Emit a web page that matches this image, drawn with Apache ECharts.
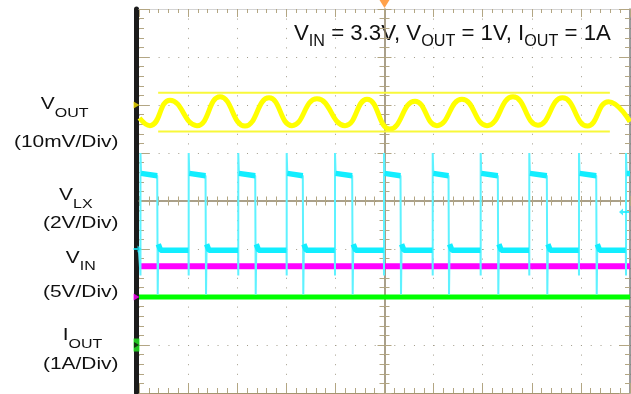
<!DOCTYPE html>
<html><head><meta charset="utf-8">
<script src="https://cdn.jsdelivr.net/npm/echarts@6/dist/echarts.min.js"></script>
<style>html,body{margin:0;padding:0;background:#fff}#c{width:631px;height:394px}</style>
</head><body><div id="c"></div>
<script>
// ---------- values read from the scope capture (time in divisions from trigger) ----------
// channel order: VOUT, VLX, VIN, IOUT
const chMain   = ['V', 'V', 'V', 'I'];
const chSub    = ['OUT', 'LX', 'IN', 'OUT'];
const chScaleLabel = ['(10mV/Div)', '(2V/Div)', '(5V/Div)', '(1A/Div)'];
const chPerDiv = [10, 2, 5, 1];          // mV, V, V, A per division
const chOffset = [2, -1, -2, -3];        // reference marker position, divisions

// VOUT ripple (AC, mV): turning points
const voutT  = [-4.99, -4.776, -4.369, -3.819, -3.350, -2.841, -2.352, -1.884, -1.375, -0.804, -0.356, 0.112, 0.621, 1.069, 1.578, 2.088, 2.617, 3.126, 3.625, 4.134, 4.562, 5.0];
const voutMv = [-2.7, -4.3, 1.0, -4.3, 1.7, -4.4, 1.5, -4.3, 1.3, -4.3, 1.2, -5.0, 0.8, -4.3, 1.2, -4.3, 1.7, -4.2, 1.5, -4.4, 0.7, -3.5];

// yellow cursors (mV) and their time span
const cursorMv = [2.56, -5.52];
const cursorT  = [-4.61, 4.59];

// VLX switching node (V)
const vlxRise = [-4.970, -3.988, -2.978, -1.992, -1.008, -0.010, 0.982, 1.959, 2.949, 3.961, 4.919];
const vlxFall = [-4.619, -3.635, -2.623, -1.654, -0.648, 0.336, 1.314, 2.318, 3.316, 4.322];
const vlxLow = -0.05;
const vlxHighStart = 3.15;
const vlxHighEnd = 3.05;
const vlxOvershoot = 4.0;
const vlxDipRise = -1.1;
const vlxDipFall = -1.9;
const vlxRebound = 0.2;
const vlxTrigger = 1.54;

// VIN (V) and IOUT (A)
const vinV = 3.2;
const ioutA = 1.0;

// ---------- build ----------
const toDiv = (ch, v) => chOffset[ch] + v / chPerDiv[ch];

const voutData = voutT.map((t, i) => [t, toDiv(0, voutMv[i])]);
const cursorData = cursorMv.map(mv => cursorT.map(t => [t, toDiv(0, mv)]));

const vlxEdge = [[-5, vlxLow]];
const vlxLevel = [];
vlxRise.forEach((r, i) => {
  vlxEdge.push([r - 0.004, vlxLow], [r, vlxDipRise], [r, vlxOvershoot], [r + 0.012, vlxHighStart]);
  vlxLevel.push([r + 0.012, vlxHighStart]);
  const f = vlxFall[i];
  if (f !== undefined) {
    vlxEdge.push([f - 0.01, vlxHighEnd], [f, vlxHighEnd], [f, vlxDipFall], [f + 0.012, vlxRebound]);
    vlxLevel.push([f - 0.01, vlxHighEnd], [f, '-']);
    const nr = vlxRise[i + 1];
    vlxLevel.push([f + 0.012, vlxRebound], [f + 0.06, vlxLow], [nr - 0.006, vlxLow], [nr, '-']);
    vlxEdge.push([f + 0.06, vlxLow]);
  } else {
    vlxLevel.push([5, vlxHighStart]);
    vlxEdge.push([5, vlxHighStart]);
  }
});
const vlxEdgeDiv = vlxEdge.map(p => [p[0], toDiv(1, p[1])]);
const vlxLevelDiv = vlxLevel.map(p => [p[0], p[1] === '-' ? '-' : toDiv(1, p[1])]);

const vinData = [[-5, toDiv(2, vinV)], [5, toDiv(2, vinV)]];
const ioutData = [[-5, toDiv(3, ioutA)], [5, toDiv(3, ioutA)]];

// ---------- styling ----------
const TAN = '#b3a683';
const DOT = '#a29c8a';
const CENTER = '#8e8163';
const FONT = '"Liberation Sans", Arial, Helvetica, sans-serif';
const noLabel = { show: false };

function xAx(pos, extra) {
  return Object.assign({
    type: 'value', min: -5, max: 5, interval: 1, position: pos,
    axisLabel: noLabel, splitLine: { show: false }
  }, extra);
}
function yAx(pos, extra) {
  return Object.assign({
    type: 'value', min: -4, max: 4, interval: 1, position: pos,
    axisLabel: noLabel, splitLine: { show: false }
  }, extra);
}

const chColors = ['#ffff00', '#12eeff', '#ff00ff', '#00ff00'];

const markerData = [
  { value: [-5, chOffset[0]], symbol: 'path://M0,0 L6,3.5 L0,7 Z', symbolSize: [6, 7], symbolOffset: [-2.5, 0], itemStyle: { color: '#f5e000' } },
  { value: [-5, chOffset[1]], symbol: 'path://M0,2.5 L4,2.5 L4,0 L8,3.5 L4,7 L4,4.5 L0,4.5 Z', symbolSize: [8, 7], symbolOffset: [-1.5, 0], itemStyle: { color: '#12eeff' } },
  { value: [-5, chOffset[2]], symbol: 'path://M0,0 L6,3.5 L0,7 Z', symbolSize: [6, 7], symbolOffset: [-2.5, 0], itemStyle: { color: '#ff00ff' } },
  { value: [-5, chOffset[3]], symbol: 'rect', symbolSize: [6, 13], symbolOffset: [-2.5, 0], itemStyle: { color: '#22ee22' } },
  { value: [-5, chOffset[3]], symbol: 'path://M0,0 L6,3.5 L0,7 Z', symbolSize: [5, 6], symbolOffset: [-2.5, 0], itemStyle: { color: '#111' } },
  { value: [5, toDiv(1, vlxTrigger)], symbol: 'path://M0,3.5 L4,0 L4,2.5 L10,2.5 L10,4.5 L4,4.5 L4,7 Z', symbolSize: [10, 7], symbolOffset: [-6, 0], itemStyle: { color: '#12eeff' } },
  { value: [0, 4], symbol: 'path://M0,0 L10,0 L5,8 Z', symbolSize: [10, 8], symbolOffset: [0, -5], itemStyle: { color: '#ff8a1c' } }
];

const labelMainX = [64.7, 75.8, 80.8, 82.5];
const labelMainY = [104.7, 195.7, 258, 335.7];
const labelScaleY = [142, 223.5, 292, 364];

const graphics = [];
for (let i = 0; i < 4; i++) {
  graphics.push({
    type: 'text', x: labelMainX[i], y: labelMainY[i], scaleX: 1.23,
    style: {
      text: '{m|' + chMain[i] + '}{s|' + chSub[i] + '}',
      align: 'center', verticalAlign: 'middle', fill: '#111',
      rich: {
        m: { fontSize: 17, fontFamily: FONT, lineHeight: 20, fill: '#111' },
        s: { fontSize: 13, fontFamily: FONT, lineHeight: 3, height: 3, verticalAlign: 'bottom', fill: '#111' }
      }
    }
  });
  graphics.push({
    type: 'text', x: 118.5, y: labelScaleY[i], scaleX: 1.23,
    style: { text: chScaleLabel[i], fontSize: 17, fontFamily: FONT, align: 'right', verticalAlign: 'middle', fill: '#111' }
  });
}
graphics.push({
  type: 'text', x: 294, y: 34.3, scaleX: 1.01,
  style: {
    text: '{m|V}{s|IN}{m| = 3.3V, V}{s|OUT}{m| = 1V, I}{s|OUT}{m| = 1A}',
    align: 'left', verticalAlign: 'middle', fill: '#111',
    rich: {
      m: { fontSize: 22, fontFamily: FONT, lineHeight: 26, fill: '#111' },
      s: { fontSize: 16, fontFamily: FONT, lineHeight: 12, height: 12, verticalAlign: 'bottom', fill: '#111' }
    }
  }
});

const chart = echarts.init(document.getElementById('c'), null, { renderer: 'canvas' });
chart.setOption({
  animation: false,
  backgroundColor: '#ffffff',
  grid: { left: 139, top: 9, width: 491, height: 384, containLabel: false },
  xAxis: [
    xAx('bottom', {
      axisLine: { onZero: false, lineStyle: { color: '#a3956f', width: 1 } },
      axisTick: { inside: true, length: 10, lineStyle: { color: TAN } },
      minorTick: { show: true, splitNumber: 5, length: 5, lineStyle: { color: TAN } },
      splitLine: { show: true, lineStyle: { color: DOT, width: 1, type: [1, 8.6] } }
    }),
    xAx('top', {
      axisLine: { onZero: false, lineStyle: { color: '#d4d4d4', width: 1 } },
      axisTick: { inside: true, length: 8, lineStyle: { color: TAN } },
      minorTick: { show: true, splitNumber: 5, length: 4, lineStyle: { color: TAN } }
    }),
    xAx('bottom', {
      axisLine: { onZero: true, onZeroAxisIndex: 0, lineStyle: { color: CENTER, width: 1.5 } },
      axisTick: { inside: true, length: 5, lineStyle: { color: TAN } },
      minorTick: { show: true, splitNumber: 5, length: 4.5, lineStyle: { color: TAN } }
    }),
    xAx('bottom', {
      axisLine: { onZero: true, onZeroAxisIndex: 0, lineStyle: { color: 'rgba(0,0,0,0)', width: 1 } },
      axisTick: { inside: false, length: 5, lineStyle: { color: TAN } },
      minorTick: { show: true, splitNumber: 5, length: 4.5, lineStyle: { color: TAN } }
    })
  ],
  yAxis: [
    yAx('left', {
      axisLine: { show: false, onZero: false },
      axisTick: { inside: true, length: 10, lineStyle: { color: TAN } },
      minorTick: { show: true, splitNumber: 5, length: 5, lineStyle: { color: TAN } },
      splitLine: { show: true, lineStyle: { color: DOT, width: 1, type: [1, 8.82] } }
    }),
    yAx('left', {
      offset: 2.5,
      axisLine: { onZero: false, lineStyle: { color: '#1b1b1b', width: 5 } },
      axisTick: { show: false }
    }),
    yAx('right', {
      axisLine: { onZero: false, lineStyle: { color: '#7a7a7a', width: 1.5 } },
      axisTick: { inside: true, length: 11, lineStyle: { color: TAN } },
      minorTick: { show: true, splitNumber: 5, length: 5, lineStyle: { color: TAN } }
    }),
    yAx('left', {
      axisLine: { onZero: true, onZeroAxisIndex: 0, lineStyle: { color: CENTER, width: 1.5 } },
      axisTick: { inside: true, length: 7, lineStyle: { color: TAN } },
      minorTick: { show: true, splitNumber: 5, length: 5, lineStyle: { color: TAN } }
    }),
    yAx('left', {
      axisLine: { onZero: true, onZeroAxisIndex: 0, lineStyle: { color: 'rgba(0,0,0,0)', width: 1 } },
      axisTick: { inside: false, length: 7, lineStyle: { color: TAN } },
      minorTick: { show: true, splitNumber: 5, length: 5, lineStyle: { color: TAN } }
    })
  ],
  graphic: graphics,
  series: [
    { name: 'VIN', type: 'line', data: vinData, symbol: 'none', z: 3,
      lineStyle: { color: chColors[2], width: 6 } },
    { name: 'IOUT', type: 'line', data: ioutData, symbol: 'none', z: 3,
      lineStyle: { color: chColors[3], width: 5 } },
    { name: 'VLX edges', type: 'line', data: vlxEdgeDiv, symbol: 'none', z: 4,
      lineStyle: { color: '#5ef2ff', width: 2 } },
    { name: 'VLX', type: 'line', data: vlxLevelDiv, symbol: 'none', z: 4, connectNulls: false,
      lineStyle: { color: chColors[1], width: 5.5 } },
    { name: 'VOUT', type: 'line', data: voutData, symbol: 'none', smooth: 0.5, z: 5,
      lineStyle: { color: chColors[0], width: 5 } },
    { name: 'Cursor A', type: 'line', data: cursorData[0], symbol: 'none', z: 5,
      lineStyle: { color: '#f8f83a', width: 2 } },
    { name: 'Cursor B', type: 'line', data: cursorData[1], symbol: 'none', z: 5,
      lineStyle: { color: '#f8f83a', width: 2 } },
    { name: 'markers', type: 'scatter', data: markerData, clip: false, z: 10, silent: true }
  ]
});
</script>
</body></html>
